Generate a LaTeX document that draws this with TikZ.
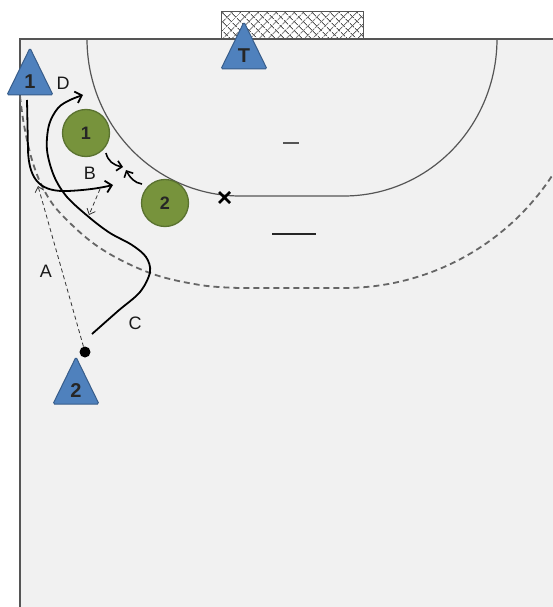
\documentclass[tikz,border=0pt]{standalone}
\usepackage{fontspec}
\setmainfont{Liberation Sans}
\usetikzlibrary{arrows.meta,patterns.meta}
\definecolor{courtbg}{HTML}{F1F1F1}
\definecolor{triblue}{HTML}{4F81BD}
\definecolor{triedge}{HTML}{385D8A}
\definecolor{grn}{HTML}{77933C}
\definecolor{grnedge}{HTML}{5A7230}
\definecolor{lineg}{HTML}{555555}
\definecolor{dashg}{HTML}{666666}
\tikzset{
  courtline/.style={draw=lineg, line width=1.2pt},
  trishape/.style={fill=triblue, draw=triedge, line width=1pt, rounded corners=1.5pt},
  trinum/.style={font=\fontsize{20}{20}\selectfont\bfseries, text=black!85, inner sep=0pt},
  circplayer/.style={circle, fill=grn, draw=grnedge, line width=1.3pt, minimum size=47pt, inner sep=0pt, font=\fontsize{18}{18}\selectfont\bfseries, text=black!85},
  lbl/.style={font=\fontsize{18}{18}\selectfont, inner sep=0pt, text=black!90},
  run/.style={line width=1.8pt, black, -{Straight Barb[length=6pt,width=12pt]}},
  smallrun/.style={line width=1.6pt, black, -{Straight Barb[length=5pt,width=10pt]}},
  pass/.style={line width=0.8pt, black!80, dash pattern=on 4pt off 3pt, -{Straight Barb[length=5pt,width=9pt]}},
  ninem/.style={line width=1.8pt, dashg, dash pattern=on 6pt off 4pt},
}
\newcommand\bluetri[4]{%
  \path[trishape] (#2-23,#3+13) -- (#2,#3-34) -- (#2+23,#3+13) -- cycle;
  \node[trinum] (#1) at (#2,#3) {#4};}
\begin{document}
\begin{tikzpicture}[x=1pt,y=-1pt]
\useasboundingbox (0,0) rectangle (553,607);
\fill[white] (0,0) rectangle (553,607);
% court
\fill[courtbg] (20,39) rectangle (553,607);
% goal
\fill[white] (221,12) rectangle (363,39);
\fill[pattern={Lines[angle=45,distance=6.5pt,line width=1pt]}, pattern color=lineg] (221,12) rectangle (363,39);
\fill[pattern={Lines[angle=-45,distance=6.5pt,line width=1pt]}, pattern color=lineg] (221,12) rectangle (363,39);
\draw[lineg, line width=1pt] (221,39) -- (221,12) -- (363,12) -- (363,39);
% boundary lines
\draw[courtline] (20,607) -- (20,39) -- (553,39);
% 6 m line
\draw[courtline] plot[domain=0:90, samples=50, variable=\t] ({240-153*cos(\t)},{39+157*sin(\t)})
  -- plot[domain=0:90, samples=50, variable=\t] ({344+153*sin(\t)},{39+157*cos(\t)});
% 9 m line
\draw[ninem] plot[smooth, tension=0.6] coordinates {(20,96) (24,125) (32,160) (44,190) (62,215) (100,248) (150,273) (200,285) (240,288)}
  -- (344,288) -- plot[domain=0:57, samples=40, variable=\t] ({344+249*sin(\t)},{39+249*cos(\t)});
% 4 m and 7 m marks
\draw[lineg, line width=1.3pt] (283,143) -- (299,143);
\draw[black!85, line width=1.3pt] (272,234) -- (316,234);
% X
\draw[black, line width=2.6pt] (219,192) -- (230,203) (219,203) -- (230,192);
% players
\bluetri{pa}{30}{82}{1}
\bluetri{pt}{244}{56}{T}
\bluetri{pb}{76}{391}{2}
\node[circplayer] (c1) at (86,133) {1};
\node[circplayer] (c2) at (165,203) {2};
\node[circle, fill=black, minimum size=11pt, inner sep=0pt] (ball) at (85,352) {};
% labels
\node[lbl] (lD) at (63,83) {D};
\node[lbl] (lB) at (90,173) {B};
\node[lbl] (lA) at (46,271) {A};
\node[lbl] (lC) at (135,323) {C};
% named free ends
\coordinate (bStart) at (27,100);
\coordinate (bEnd) at (113,185);
\coordinate (aEnd) at (38,186);
\coordinate (cStart) at (92,334);
\coordinate (dEnd) at (83,95);
\coordinate (pStart) at (100,189);
\coordinate (pEnd) at (89,215);
\coordinate (s1a) at (106,153);
\coordinate (s1b) at (123,167);
\coordinate (s2a) at (142,184);
\coordinate (s2b) at (126,170);
% runs
\draw[run] (bStart) -- (28,150) .. controls (29,182) and (42,192) .. (68,191) .. controls (88,190) and (100,188) .. (bEnd);
\draw[run] plot[smooth, tension=0.55] coordinates {(cStart) (118,311) (140,292) (150,272) (146,257) (132,245) (110,233) (90,218) (67,197) (54,176) (47,150) (49,125) (58,108) (70,100) (dEnd)};
% passes
\draw[pass] (ball) -- (aEnd);
\draw[pass] (pStart) -- (pEnd);
% small arrows
\draw[smallrun] (s1a) .. controls (108,161) and (113,165) .. (s1b);
\draw[smallrun] (s2a) .. controls (135,183) and (130,178) .. (s2b);
\end{tikzpicture}
\end{document}
